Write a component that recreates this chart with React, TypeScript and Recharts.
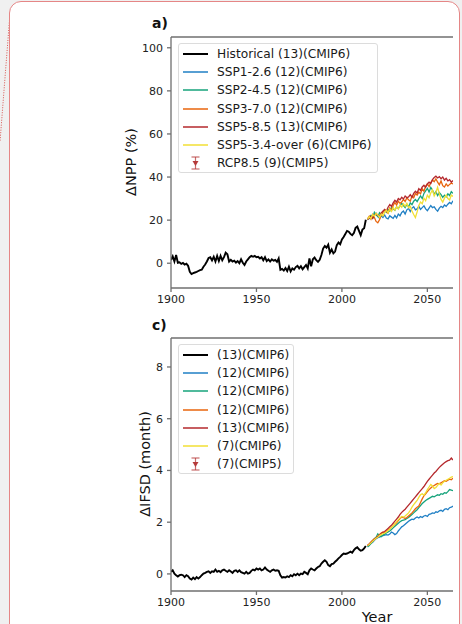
import React from 'react';
import { LineChart, Line, XAxis, YAxis, Legend, ReferenceLine } from 'recharts';

// years
const HIST_START = 1900;
const SCEN_START = 2015;

// ΔNPP (%) historical, 1900-2014
const nppHist = [
  1.5, 3.2, 0.8, 3.8, 0.2, 0.4, -0.3, 0.1, -0.6, -0.2,
  -1.2, -4.0, -5.0, -4.6, -4.3, -4.0, -3.6, -3.2, -3.0, -1.6,
  -0.6, 0.8, 2.4, 2.8, 1.3, 3.0, 0.8, 3.4, 1.0, 3.4,
  1.4, 2.8, 4.9, 4.2, 0.8, 1.6, 0.8, 1.2, 0.3, 1.0,
  0.0, 1.8, 0.2, -0.8, 0.8, 1.8, 2.8, 3.4, 3.0, 3.4,
  2.8, 3.0, 2.2, 2.8, 1.4, 2.8, 1.0, 1.8, 0.8, 1.8,
  1.2, 1.5, 0.6, 2.2, -3.0, -2.6, -3.4, -2.2, -3.6, -1.6,
  -3.8, -2.4, -3.0, -1.8, -1.2, -2.4, -1.4, -2.8, -1.8, -0.8,
  -2.4, 2.2, -1.4, 1.8, 2.6, 1.4, 0.6, 1.6, 3.8, 6.8,
  8.0, 7.2, 8.6, 4.9, 6.4, 4.6, 5.4, 8.4, 9.6, 8.8,
  11.0, 12.2, 13.6, 15.0, 14.6, 13.6, 13.0, 14.0, 16.4, 17.0,
  15.0, 13.0, 15.6, 16.2, 20.2,
];

// ΔNPP (%) scenarios, 2015-2065
const npp126 = [
  20.2, 20.8, 21.6, 21.0, 22.6, 23.2, 21.8, 20.8, 22.0, 21.2,
  22.4, 21.0, 20.6, 22.0, 21.4, 20.8, 22.2, 21.0, 22.8, 22.0,
  23.6, 24.2, 22.8, 24.8, 25.4, 24.0, 25.6, 26.2, 24.8, 25.2,
  26.4, 25.0, 25.8, 26.6, 25.2, 24.4, 25.6, 26.8, 25.8, 26.2,
  25.0, 24.2, 25.6, 26.4, 25.8, 27.0, 26.4, 27.4, 28.2, 27.6,
  29.0,
];
const npp245 = [
  20.4, 21.4, 22.2, 21.0, 23.6, 22.4, 21.6, 23.4, 22.4, 24.0,
  24.6, 23.6, 25.0, 24.2, 25.8, 25.2, 24.6, 26.2, 25.4, 26.6,
  27.8, 26.8, 25.8, 27.4, 26.2, 28.0, 27.2, 28.8, 29.6, 28.6,
  30.0, 31.2, 30.0, 32.4, 33.6, 34.8, 33.0, 35.2, 34.0, 32.0,
  33.2, 31.4, 32.8, 31.8, 30.6, 31.6, 30.8, 32.2, 31.4, 33.2,
  32.4,
];
const npp370 = [
  20.6, 21.8, 20.4, 22.6, 21.2, 19.4, 18.8, 20.2, 22.4, 23.6,
  24.8, 24.0, 23.2, 25.6, 24.4, 26.8, 28.2, 27.0, 28.8, 27.8,
  28.4, 29.6, 28.6, 30.4, 29.4, 28.8, 31.2, 30.4, 32.4, 31.6,
  33.0, 32.2, 34.6, 33.4, 35.8, 36.8, 35.6, 37.4, 38.6, 37.8,
  39.2, 37.6, 36.4, 38.2, 36.0, 35.4, 36.8, 35.8, 36.6, 37.2,
  36.8,
];
const npp585 = [
  20.2, 21.0, 21.8, 20.8, 22.2, 23.0, 22.2, 21.6, 23.4, 24.2,
  25.0, 24.2, 26.0, 27.2, 26.4, 28.0, 29.2, 28.4, 30.0, 29.4,
  30.6, 29.8, 31.2, 30.4, 30.8, 31.8, 30.6, 32.4, 33.4, 32.6,
  34.6, 33.8, 35.4, 36.2, 35.2, 36.8, 37.6, 37.0, 38.8, 39.8,
  40.4, 39.6, 40.2, 39.2, 40.0, 38.6, 39.4, 38.2, 38.8, 37.6,
  38.4,
];
const npp534 = [
  20.4, 21.6, 20.8, 22.6, 21.8, 23.2, 22.4, 21.2, 22.8, 22.0,
  23.6, 24.6, 23.4, 25.2, 24.0, 25.8, 24.6, 26.2, 25.2, 27.0,
  26.0, 27.6, 26.4, 27.8, 25.8, 26.4, 24.2, 22.6, 21.2, 23.8,
  26.8, 28.4, 27.6, 30.2, 29.0, 31.6, 30.4, 32.6, 34.0, 31.2,
  32.8, 35.2, 32.2, 29.6, 28.4, 30.2, 31.6, 30.0, 29.4, 31.6,
  31.0,
];

// ΔIFSD (month) historical, 1900-2014
const ifsdHist = [
  0.08, 0.14, 0.01, -0.05, -0.10, -0.05, -0.03, -0.05, -0.12, -0.05,
  -0.09, -0.18, -0.22, -0.14, -0.20, -0.12, -0.18, -0.12, -0.05, 0.01,
  0.04, 0.08, 0.10, 0.04, 0.10, 0.08, 0.17, 0.08, 0.12, 0.07,
  0.14, 0.17, 0.12, 0.08, 0.14, 0.09, 0.04, 0.12, 0.14, 0.08,
  0.14, 0.07, 0.04, 0.01, 0.08, 0.01, 0.04, 0.12, 0.17, 0.14,
  0.21, 0.17, 0.21, 0.14, 0.17, 0.25, 0.17, 0.12, 0.08, 0.14,
  0.17, 0.12, 0.14, 0.12, -0.05, -0.14, -0.12, -0.14, -0.09, -0.12,
  -0.05, -0.09, -0.01, -0.05, 0.01, -0.05, 0.01, -0.01, 0.08, 0.04,
  -0.01, 0.14, 0.21, 0.17, 0.14, 0.21, 0.27, 0.30, 0.40, 0.47,
  0.53, 0.47, 0.34, 0.30, 0.38, 0.40, 0.47, 0.53, 0.60, 0.66,
  0.73, 0.79, 0.77, 0.79, 0.82, 0.86, 0.82, 0.92, 0.99, 1.03,
  0.95, 0.90, 0.92, 0.99, 1.08,
];

// ΔIFSD (month) scenarios, 2015-2065
const ifsd126 = [
  1.08, 1.12, 1.18, 1.22, 1.30, 1.36, 1.40, 1.42, 1.46, 1.48,
  1.50, 1.52, 1.50, 1.54, 1.62, 1.58, 1.52, 1.56, 1.66, 1.74,
  1.82, 1.86, 1.92, 1.98, 2.04, 2.08, 2.12, 2.10, 2.16, 2.20,
  2.16, 2.22, 2.18, 2.24, 2.26, 2.22, 2.30, 2.32, 2.36, 2.34,
  2.40, 2.38, 2.44, 2.46, 2.42, 2.50, 2.52, 2.48, 2.56, 2.58,
  2.62,
];
const ifsd245 = [
  1.04, 1.10, 1.18, 1.26, 1.36, 1.42, 1.55, 1.48, 1.44, 1.50,
  1.54, 1.58, 1.62, 1.66, 1.72, 1.78, 1.84, 1.90, 1.96, 2.02,
  2.06, 2.08, 2.10, 2.14, 2.18, 2.24, 2.30, 2.36, 2.42, 2.48,
  2.56, 2.64, 2.72, 2.78, 2.84, 2.88, 2.92, 2.96, 3.00, 2.98,
  3.02, 3.06, 3.04, 3.10, 3.08, 3.14, 3.12, 3.18, 3.26, 3.24,
  3.22,
];
const ifsd370 = [
  1.10, 1.16, 1.24, 1.30, 1.36, 1.40, 1.46, 1.52, 1.58, 1.62,
  1.60, 1.64, 1.70, 1.74, 1.80, 1.86, 1.92, 1.98, 2.06, 2.14,
  2.20, 2.18, 2.14, 2.18, 2.24, 2.30, 2.36, 2.44, 2.52, 2.58,
  2.62, 2.76, 2.90, 3.02, 3.10, 3.18, 3.26, 3.32, 3.38, 3.42,
  3.46, 3.50, 3.48, 3.52, 3.56, 3.60, 3.58, 3.62, 3.66, 3.64,
  3.70,
];
const ifsd585 = [
  1.10, 1.16, 1.22, 1.28, 1.34, 1.38, 1.44, 1.50, 1.56, 1.60,
  1.64, 1.70, 1.76, 1.82, 1.88, 1.96, 2.04, 2.12, 2.20, 2.30,
  2.38, 2.44, 2.50, 2.58, 2.66, 2.74, 2.82, 2.90, 2.98, 3.06,
  3.14, 3.22, 3.30, 3.38, 3.48, 3.58, 3.66, 3.74, 3.82, 3.90,
  3.96, 4.04, 4.12, 4.18, 4.24, 4.30, 4.34, 4.38, 4.40, 4.48,
  4.40,
];
const ifsd534 = [
  1.10, 1.14, 1.20, 1.26, 1.32, 1.38, 1.42, 1.48, 1.52, 1.56,
  1.58, 1.62, 1.68, 1.74, 1.80, 1.86, 1.94, 2.02, 2.10, 2.16,
  2.22, 2.20, 2.24, 2.30, 2.36, 2.46, 2.58, 2.68, 2.76, 2.84,
  2.96, 3.06, 3.10, 3.04, 3.14, 3.26, 3.36, 3.46, 3.40, 3.30,
  3.34, 3.42, 3.50, 3.44, 3.52, 3.58, 3.62, 3.66, 3.70, 3.74,
  3.76,
];

const xTicks = [1900, 1950, 2000, 2050];
const nppTicks = [0, 20, 40, 60, 80, 100];
const ifsdTicks = [0, 2, 4, 6, 8];

const nppLegend = [
  'Historical (13)(CMIP6)',
  'SSP1-2.6 (12)(CMIP6)',
  'SSP2-4.5 (12)(CMIP6)',
  'SSP3-7.0 (12)(CMIP6)',
  'SSP5-8.5 (13)(CMIP6)',
  'SSP5-3.4-over (6)(CMIP6)',
  'RCP8.5 (9)(CMIP5)',
];
const ifsdLegend = [
  '(13)(CMIP6)',
  '(12)(CMIP6)',
  '(12)(CMIP6)',
  '(12)(CMIP6)',
  '(13)(CMIP6)',
  '(7)(CMIP6)',
  '(7)(CMIP5)',
];

const KEYS = ['hist', 's126', 's245', 's370', 's585', 's534'];
const COLORS = ['#000000', '#1f7fc4', '#16a37b', '#e8640c', '#b4282c', '#f2df35'];
const CMIP5_COLOR = '#b53a3a';
const FONT = '"DejaVu Sans", sans-serif';
const SPINE = '#6f6f6f';

function buildRows(hist: number[], scen: number[][]) {
  const rows: Record<string, number>[] = [];
  hist.forEach((v, i) => rows.push({ year: HIST_START + i, hist: v }));
  scen[0].forEach((_, i) => {
    const row: Record<string, number> = { year: SCEN_START + i };
    scen.forEach((s, k) => (row[KEYS[k + 1]] = s[i]));
    rows.push(row);
  });
  return rows;
}

const nppRows = buildRows(nppHist, [npp126, npp245, npp370, npp585, npp534]);
const ifsdRows = buildRows(ifsdHist, [ifsd126, ifsd245, ifsd370, ifsd585, ifsd534]);

const makeLegend = (labels: string[], width: number) => () => (
  <div
    style={{
      width,
      height: 130,
      border: '1px solid #dcdcdc',
      borderRadius: 3,
      background: 'rgba(255,255,255,0.85)',
      fontFamily: FONT,
      fontSize: 12.2,
      color: '#1a1a1a',
      boxSizing: 'border-box',
      paddingTop: 1,
    }}
  >
    {labels.map((label, i) => (
      <div key={label + i} style={{ height: 18.2, display: 'flex', alignItems: 'center' }}>
        <svg width={38} height={18} style={{ flex: 'none' }}>
          {i < 6 ? (
            <line x1={4} x2={29} y1={9} y2={9} stroke={COLORS[i]} strokeWidth={i === 0 ? 2 : 1.5} />
          ) : (
            <g stroke={CMIP5_COLOR} strokeOpacity={0.75} strokeWidth={1.2}>
              <line x1={16.5} x2={16.5} y1={3} y2={15} />
              <line x1={12.5} x2={20.5} y1={3} y2={3} />
              <line x1={12.5} x2={20.5} y1={15} y2={15} />
              <path d="M13.5 7 L19.5 7 L16.5 12 Z" fill={CMIP5_COLOR} stroke="none" />
            </g>
          )}
        </svg>
        <span style={{ whiteSpace: 'nowrap' }}>{label}</span>
      </div>
    ))}
  </div>
);

interface PanelProps {
  rows: Record<string, number>[];
  domain: [number, number];
  ticks: number[];
  height: number;
  top: number;
  bottom: number;
  legend: () => React.ReactElement;
  legendWidth: number;
}

const Panel: React.FC<PanelProps> = ({ rows, domain, ticks, height, top, bottom, legend, legendWidth }) => (
  <LineChart width={462} height={height} data={rows} margin={{ top, right: 9, left: 111, bottom }}>
    <XAxis
      dataKey="year"
      type="number"
      domain={[1900, 2065]}
      allowDataOverflow
      ticks={xTicks}
      height={30}
      stroke={SPINE}
      strokeWidth={1.3}
      tickSize={4}
      tickMargin={3}
      tick={{ fontSize: 11, fill: '#222', fontFamily: FONT }}
    />
    <YAxis
      type="number"
      domain={domain}
      allowDataOverflow
      ticks={ticks}
      width={60}
      stroke={SPINE}
      strokeWidth={1.3}
      tickSize={4}
      tickMargin={4}
      tick={{ fontSize: 11, fill: '#222', fontFamily: FONT }}
    />
    <ReferenceLine y={domain[1]} stroke={SPINE} strokeWidth={1.3} />
    {KEYS.map((k, i) => (
      <Line
        key={k}
        dataKey={k}
        stroke={COLORS[i]}
        strokeWidth={i === 0 ? 1.9 : 1.3}
        dot={false}
        activeDot={false}
        connectNulls={false}
        isAnimationActive={false}
      />
    ))}
    <Legend
      layout="vertical"
      align="center"
      verticalAlign="middle"
      content={legend}
      wrapperStyle={{ left: 178, top: top + 6, width: legendWidth }}
    />
  </LineChart>
);

const textStyle = { fontFamily: FONT, fill: '#111' };

export default function App() {
  return (
    <div style={{ position: 'fixed', left: 0, top: 0, width: 462, height: 624, background: '#f0f0f0', overflow: 'hidden' }}>
      <svg width={12} height={160} style={{ position: 'absolute', left: 0, top: 0 }}>
        <line x1={9.5} y1={20} x2={0} y2={142} stroke="#d9534f" strokeWidth={1} strokeDasharray="1 1.5" />
      </svg>
      <div
        style={{
          position: 'absolute',
          left: 9,
          top: 1,
          width: 451,
          height: 660,
          background: '#fff',
          border: '1.5px solid #e58686',
          borderRadius: 12,
          boxSizing: 'border-box',
        }}
      />
      <div style={{ position: 'absolute', left: 0, top: 0 }}>
        <Panel
          rows={nppRows}
          domain={[-11.5, 105]}
          ticks={nppTicks}
          height={318}
          top={37}
          bottom={0}
          legend={makeLegend(nppLegend, 200)}
          legendWidth={200}
        />
      </div>
      <div style={{ position: 'absolute', left: 0, top: 300 }}>
        <Panel
          rows={ifsdRows}
          domain={[-0.66, 9.12]}
          ticks={ifsdTicks}
          height={330}
          top={38}
          bottom={9}
          legend={makeLegend(ifsdLegend, 116)}
          legendWidth={116}
        />
      </div>
      <svg width={462} height={624} style={{ position: 'absolute', left: 0, top: 0, pointerEvents: 'none' }}>
        <text x={152} y={28} fontSize={14} fontWeight="bold" style={textStyle}>a)</text>
        <text x={152} y={330} fontSize={14} fontWeight="bold" style={textStyle}>c)</text>
        <text x={0} y={0} fontSize={14.5} textAnchor="middle" transform="translate(136 162) rotate(-90)" style={textStyle}>
          ΔNPP (%)
        </text>
        <text x={0} y={0} fontSize={14.5} textAnchor="middle" transform="translate(150 464) rotate(-90)" style={textStyle}>
          ΔIFSD (month)
        </text>
        <text x={377} y={622} fontSize={14.5} textAnchor="middle" style={textStyle}>Year</text>
      </svg>
    </div>
  );
}
